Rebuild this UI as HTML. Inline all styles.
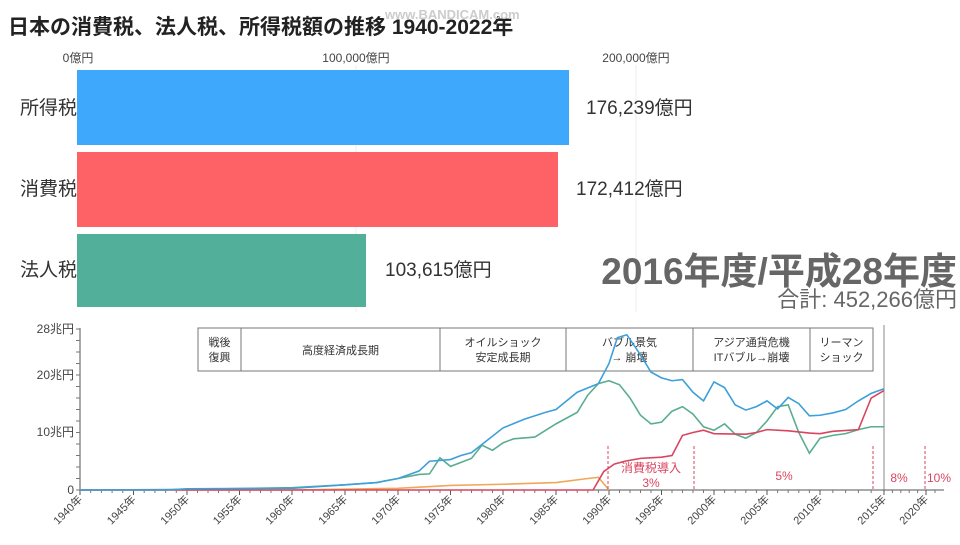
<!DOCTYPE html>
<html><head><meta charset="utf-8"><style>
body{margin:0;width:960px;height:540px;background:#fff;overflow:hidden;font-family:"Liberation Sans","Noto Sans CJK JP",sans-serif}
</style></head><body>
<svg id="s" width="960" height="540" xmlns="http://www.w3.org/2000/svg" font-family="Liberation Sans, Noto Sans CJK JP, sans-serif">
<text x="8" y="34" font-size="21" font-weight="bold" fill="#222">日本の消費税、法人税、所得税額の推移 1940-2022年</text>
<text x="385" y="19" font-size="13" fill="#ccc" font-weight="bold">www.BANDICAM.com</text>
<line x1="356" y1="65" x2="356" y2="312" stroke="#eee"/>
<line x1="636" y1="65" x2="636" y2="312" stroke="#eee"/>
<g font-size="12" fill="#444" text-anchor="middle"><text x="78" y="62">0億円</text><text x="356" y="62">100,000億円</text><text x="636" y="62">200,000億円</text></g>
<rect x="77" y="70" width="492" height="75" fill="#3ea8fc"/>
<rect x="77" y="152" width="481" height="75" fill="#fe6166"/>
<rect x="77" y="234" width="289" height="73" fill="#52b09a"/>
<g font-size="19" fill="#333"><text x="20" y="114">所得税</text><text x="20" y="195">消費税</text><text x="20" y="276">法人税</text>
<text x="586" y="114">176,239億円</text><text x="576" y="195">172,412億円</text><text x="385" y="276">103,615億円</text></g>
<text x="957" y="284" font-size="37" font-weight="bold" fill="#666" text-anchor="end">2016年度/平成28年度</text>
<text x="957" y="307" font-size="22" fill="#666" text-anchor="end">合計: 452,266億円</text>
<g id="chart"></g>
</svg>
<script>
const A=[[1940,80],[1950,187],[1960,292],[1970,398],[1980,503],[1990,609],[2000,714],[2010,820],[2015,884],[2020,926],[2022,944]];
function X(y){for(let i=0;i<A.length-1;i++){if(y<=A[i+1][0]){const[a,b]=A[i],[c,d]=A[i+1];return b+(y-a)*(d-b)/(c-a);}}return 944;}
const Y=v=>490-v*5.75;
let h='';
h+='<line x1="80" y1="328" x2="80" y2="490" stroke="#555"/><line x1="80" y1="490" x2="944" y2="490" stroke="#555"/>';
for(let v=0;v<=28;v+=2){h+=`<line x1="76" y1="${Y(v)}" x2="80" y2="${Y(v)}" stroke="#777"/>`;}
h+='<g font-size="12" fill="#444" text-anchor="end"><text x="74" y="333">28兆円</text><text x="74" y="379">20兆円</text><text x="74" y="436">10兆円</text><text x="74" y="494">0</text></g>';
for(let y=1940;y<=2020;y+=5){const x=X(y);h+=`<line x1="${x}" y1="490" x2="${x}" y2="495" stroke="#555"/><text font-size="11" fill="#444" text-anchor="end" transform="translate(${x+3},${500}) rotate(-45)">${y}年</text>`;}
for(let y=1941;y<2022;y++){if(y%5)h+=`<line x1="${X(y)}" y1="490" x2="${X(y)}" y2="493" stroke="#777"/>`;}
const cols=[198,241,440,566,693,810,873];
h+=`<rect x="198" y="328" width="675" height="43" fill="#fff" stroke="#777"/>`;
cols.slice(1,-1).forEach(c=>h+=`<line x1="${c}" y1="328" x2="${c}" y2="371" stroke="#777"/>`);
const lab=[["戦後","復興"],["高度経済成長期"],["オイルショック","安定成長期"],["バブル景気","→ 崩壊"],["アジア通貨危機","ITバブル→崩壊"],["リーマン","ショック"]];
lab.forEach((l,i)=>{const cx=(cols[i]+cols[i+1])/2;if(l.length==1)h+=`<text x="${cx}" y="354" font-size="11" fill="#333" text-anchor="middle">${l[0]}</text>`;else{h+=`<text x="${cx}" y="346" font-size="11" fill="#333" text-anchor="middle">${l[0]}</text><text x="${cx}" y="361" font-size="11" fill="#333" text-anchor="middle">${l[1]}</text>`;}});
h+='<line x1="884" y1="325" x2="884" y2="490" stroke="#888"/>';
function path(d,c){return `<polyline fill="none" stroke="${c}" stroke-width="1.6" points="${d.map(p=>X(p[0])+','+Y(p[1])).join(' ')}"/>`;}
const blue=[[1940,0],[1948,0],[1950,0.2],[1960,0.3],[1965,0.9],[1968,1.3],[1970,2],[1972,3.3],[1973,5],[1975,5.3],[1976,6],[1977,6.5],[1980,10.8],[1982,12.3],[1984,13.5],[1985,14],[1987,17],[1989,18.5],[1990,22],[1990.8,26.5],[1991.7,27],[1993,23.5],[1994,20.5],[1995,19.5],[1996,19],[1997,19.2],[1998,17],[1999,15.5],[2000,18.8],[2001,17.8],[2002,14.8],[2003,13.9],[2004,14.5],[2005,15.5],[2006,14.1],[2007,16.1],[2008,15],[2009,12.9],[2010,13],[2011,13.4],[2012,14],[2013,15.5],[2014,16.8],[2015,17.6]];
const green=[[1940,0],[1950,0.1],[1960,0.4],[1965,0.9],[1968,1.3],[1970,2],[1972,2.7],[1973,2.8],[1974,5.6],[1975,4.1],[1977,5.5],[1978,7.8],[1979,6.9],[1980,8.2],[1981,8.9],[1983,9.2],[1985,11.5],[1987,13.5],[1988,16.5],[1989,18.5],[1990,19],[1991,18.3],[1992,16],[1993,13],[1994,11.5],[1995,11.8],[1996,13.7],[1997,14.5],[1998,13.2],[1999,11],[2000,10.4],[2001,11.5],[2002,9.7],[2003,9],[2004,10],[2005,12],[2006,14.5],[2007,14.8],[2008,10],[2009,6.4],[2010,9],[2011,9.5],[2012,9.8],[2013,10.5],[2014,11],[2015,11]];
const red=[[1940,0],[1988.5,0],[1989.5,3.2],[1990.5,4.5],[1991.5,5],[1993,5.5],[1995,5.7],[1996,6],[1997,9.5],[1998,10],[1999,10.4],[2000,9.8],[2003,9.7],[2004,10],[2005,10.5],[2007,10.3],[2009,9.9],[2010,9.8],[2011,10.2],[2013,10.5],[2014,16],[2015,17.3]];
const orange=[[1940,0],[1960,0],[1970,0.3],[1975,0.8],[1980,1],[1985,1.3],[1988,2],[1989,2.2],[1990,0]];
h+=path(orange,'#f0a858')+path(green,'#5aae8e')+path(red,'#d9455f')+path(blue,'#3da0d8');
[608,694,873,925].forEach(x=>h+=`<line x1="${x}" y1="446" x2="${x}" y2="490" stroke="#d9455f" stroke-dasharray="3,2"/>`);
h+='<g font-size="12" fill="#d9455f" text-anchor="middle"><text x="651" y="472">消費税導入</text><text x="651" y="487">3%</text><text x="784" y="480">5%</text><text x="899" y="482">8%</text><text x="939" y="482">10%</text></g>';
document.getElementById('chart').innerHTML=h;
</script>
</body></html>
